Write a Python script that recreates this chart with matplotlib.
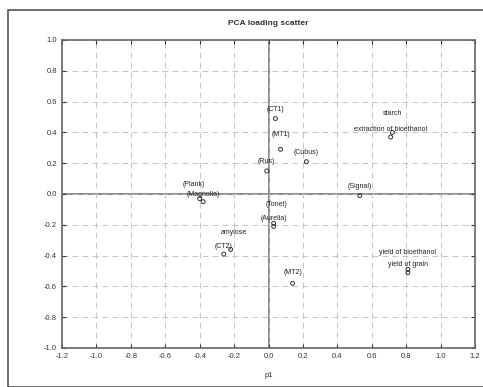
import matplotlib
matplotlib.use("Agg")
import numpy as np
from matplotlib import pyplot as plt
from matplotlib.patches import Rectangle

plt.rcParams['font.family'] = ['Liberation Sans', 'DejaVu Sans']

# loadings (p1, p2)
labels = ["(CT1)", "(MT1)", "(Cubus)", "(Rus)", "starch", "extraction of bioethanol",
          "(Signal)", "(Plank)", "(Magnolia)", "(Tonet)", "(Aurelia)",
          "amylose", "(CT2)", "(MT2)", "yield of bioethanol", "yield of grain"]
p1 = [0.04, 0.07, 0.22, -0.01, 0.72, 0.71, 0.53, -0.40, -0.38, 0.03, 0.03,
      -0.22, -0.26, 0.14, 0.81, 0.81]
p2 = [0.49, 0.29, 0.21, 0.15, 0.40, 0.37, -0.01, -0.03, -0.05, -0.19, -0.21,
      -0.36, -0.39, -0.58, -0.49, -0.51]

# label offsets in points (dx, dy) so overlapping names stay readable
offsets = [(0, 4), (0, 8), (0, 4), (0, 4), (0, 11), (0, 3), (0, 4), (-4, 8),
           (0, 3), (2, 11), (0, 3), (2, 10), (0, 3), (0, 5), (0, 10), (0, 3)]

fig = plt.figure(figsize=(4.83, 3.87), dpi=100)
fig.patches.append(Rectangle((8 / 483, 0), 1, 1 - 10 / 387, transform=fig.transFigure,
                             fill=False, edgecolor='#555555', linewidth=1.2))
ax = fig.add_axes([62 / 483, 1 - 348 / 387, 413 / 483, 308 / 387])

ax.axhline(0, color='#777777', linewidth=1.2, zorder=1)
ax.axvline(0, color='#777777', linewidth=1.2, zorder=1)
ax.scatter(p1, p2, s=8, facecolors='none', edgecolors='#333333', linewidths=0.7, zorder=3)
for name, x, y, (dx, dy) in zip(labels, p1, p2, offsets):
    ax.annotate(name, (x, y), xytext=(dx, dy), textcoords='offset points',
                ha='center', va='bottom', fontsize=5, color='#222222')

ax.set_xlim(-1.2, 1.2)
ax.set_ylim(-1.0, 1.0)
ax.set_xticks(np.round(np.arange(-1.2, 1.21, 0.2), 1) + 0.0)
ax.set_yticks(np.round(np.arange(-1.0, 1.01, 0.2), 1) + 0.0)
ax.xaxis.set_major_formatter(matplotlib.ticker.FuncFormatter(lambda v, p: f"{round(v, 1) + 0.0:.1f}"))
ax.yaxis.set_major_formatter(matplotlib.ticker.FuncFormatter(lambda v, p: f"{round(v, 1) + 0.0:.1f}"))
ax.tick_params(labelsize=5.5, colors='#333333', length=3, direction='in',
               top=True, right=True, width=0.8)
ax.grid(True, linestyle=(0, (7, 5)), color='#bbbbbb', linewidth=0.6)
for s in ax.spines.values():
    s.set_color('#666666')
    s.set_linewidth(1.2)

ax.set_xlabel("p1", fontsize=5.5, color='#333333', labelpad=9)
ax.set_title("PCA loading scatter", fontsize=6, fontweight='bold', color='#333333', pad=11)

plt.savefig("out.png", dpi=100)
